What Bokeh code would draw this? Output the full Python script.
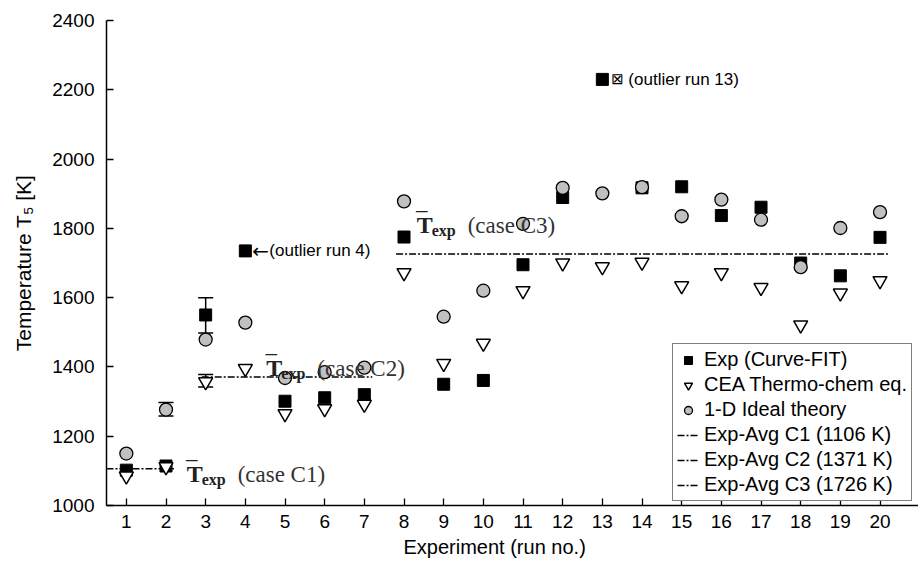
from bokeh.plotting import figure
from bokeh.models import Range1d, Legend, LegendItem, ColumnDataSource, FixedTicker, Title
from bokeh.core.properties import value
from bokeh.embed import file_html
from bokeh.resources import INLINE

# ---------------- data ----------------
runs = list(range(1, 21))
exp_fit = [1102, 1114, 1550, 1735, 1301, 1311, 1320, 1775, 1350, 1361,
           1695, 1889, 2230, 1917, 1920, 1837, 1861, 1700, 1663, 1774]
cea_eq = [1085, 1112, 1357, 1395, 1265, 1279, 1292, 1672, 1410, 1468,
          1620, 1700, 1689, 1702, 1634, 1672, 1629, 1521, 1613, 1649]
ideal_1d = [1150, 1277, 1479, 1528, 1368, 1385, 1398, 1878, 1545, 1620,
            1813, 1917, 1901, 1919, 1835, 1883, 1825, 1688, 1801, 1847]

err_run = [2, 3, 3]
err_low = [1258, 1498, 1342]
err_high = [1297, 1600, 1378]

avg_labels = ["Exp-Avg C1 (1106 K)", "Exp-Avg C2 (1371 K)", "Exp-Avg C3 (1726 K)"]
avg_vals = [1106, 1371, 1726]
avg_start = [0.5, 2.9, 7.8]
avg_end = [2.2, 7.2, 20.2]

case_x = [2.52, 4.53, 8.32]
case_y = [1090, 1396, 1809]
case_text = ["(case C1)", "(case C2)", "(case C3)"]

outlier_run = [4, 13]
outlier_val = [1735, 2230]
outlier_text = ["(outlier run 4)", "(outlier run 13)"]

x_ticks = runs
y_ticks = [1000, 1200, 1400, 1600, 1800, 2000, 2200, 2400]

SANS = "Liberation Sans"
SERIF = "Liberation Serif"

# ---------------- figure ----------------
p = figure(width=918, height=567, x_range=Range1d(0.5, 20.97), y_range=Range1d(1000, 2400),
           output_backend="svg", toolbar_location=None,
           min_border_left=106, min_border_right=0, min_border_top=20, min_border_bottom=62)
p.outline_line_color = None
p.grid.visible = False
p.background_fill_color = "white"

for ax in (p.xaxis[0], p.yaxis[0]):
    ax.axis_line_color = "black"
    ax.axis_line_width = 1.5
    ax.major_tick_line_color = "black"
    ax.major_tick_line_width = 1.3
    ax.major_tick_in = 7
    ax.major_tick_out = 0
    ax.minor_tick_line_color = None
    ax.major_label_text_font = SANS
    ax.major_label_text_font_size = "19px"
    ax.major_label_text_color = "black"
    ax.axis_label_text_font = SANS
    ax.axis_label_text_font_style = "normal"
    ax.axis_label_text_color = "black"

p.xaxis.ticker = FixedTicker(ticks=x_ticks)
p.yaxis.ticker = FixedTicker(ticks=y_ticks)
p.xaxis.major_label_standoff = 9
p.yaxis.major_label_standoff = 12
p.yaxis.axis_label = "Temperature T\u2085 [K]"
p.yaxis.axis_label_text_font_size = "21px"
p.yaxis.axis_label_standoff = 14

xlab = Title(text="Experiment (run no.)", align="left", offset=297,
             text_font=SANS, text_font_size="20px", text_font_style="normal",
             text_color="black", standoff=6)
p.add_layout(xlab, "below")

# average lines
avg_renderers = []
for i in range(3):
    r = p.line([avg_start[i], avg_end[i]], [avg_vals[i], avg_vals[i]],
               line_color="black", line_width=1.5, line_dash="7 2 2 2")
    avg_renderers.append(r)

# error bars
p.segment(x0=err_run, y0=err_low, x1=err_run, y1=err_high, line_color="black", line_width=1.5)
p.scatter(x=err_run + err_run, y=err_low + err_high, marker="dash", size=15,
          line_color="black", line_width=1.5)

src = ColumnDataSource(dict(run=runs, exp=exp_fit, cea=cea_eq, ideal=ideal_1d))
r_exp = p.scatter("run", "exp", source=src, marker="square", size=12,
                  fill_color="black", line_color="black")
r_cea = p.scatter("run", "cea", source=src, marker="inverted_triangle", size=14,
                  fill_color="white", line_color="black", line_width=1.5)
r_ideal = p.scatter("run", "ideal", source=src, marker="circle", size=13,
                    fill_color="#c0c0c0", line_color="black", line_width=1.3)

# case labels  (T-bar_exp (case Cn))
case_src = ColumnDataSource(dict(x=case_x, y=case_y, t=case_text))
p.text(x="x", y="y", text=value("T"), source=case_src, text_font=value(SERIF),
       text_font_style="bold", text_font_size="24px", text_color="#222222",
       text_baseline="alphabetic", text_align="left")
p.text(x="x", y="y", text=value("\u203e"), source=case_src, text_font=value(SERIF),
       text_font_style="bold", text_font_size="30px", text_color="#222222",
       text_baseline="alphabetic", text_align="left", x_offset=0, y_offset=-1)
p.text(x="x", y="y", text=value("exp"), source=case_src, text_font=value(SERIF),
       text_font_style="bold", text_font_size="16px", text_color="#222222",
       text_baseline="alphabetic", text_align="left", x_offset=15, y_offset=5)
p.text(x="x", y="y", text="t", source=case_src, text_font=value(SERIF),
       text_font_size="23px", text_color="#333333",
       text_baseline="alphabetic", text_align="left", x_offset=51)

# outlier annotations
p.text(x=outlier_run[:1], y=outlier_val[:1], text=["\u2190"], text_font=value("DejaVu Sans"),
       text_font_size="20px", text_color="black", text_baseline="middle",
       text_align="left", x_offset=7)
p.text(x=outlier_run[:1], y=outlier_val[:1], text=outlier_text[:1], text_font=value(SANS),
       text_font_size="17px", text_color="black", text_baseline="middle",
       text_align="left", x_offset=24)
p.text(x=outlier_run[1:], y=outlier_val[1:], text=["\u22a0"], text_font=value("DejaVu Sans"),
       text_font_size="15px", text_color="black", text_baseline="middle",
       text_align="left", x_offset=9)
p.text(x=outlier_run[1:], y=outlier_val[1:], text=outlier_text[1:], text_font=value(SANS),
       text_font_size="17px", text_color="black", text_baseline="middle",
       text_align="left", x_offset=26)

legend = Legend(items=[
    LegendItem(label="Exp (Curve-FIT)", renderers=[r_exp]),
    LegendItem(label="CEA Thermo-chem eq.", renderers=[r_cea]),
    LegendItem(label="1-D Ideal theory", renderers=[r_ideal]),
] + [LegendItem(label=avg_labels[i], renderers=[avg_renderers[i]]) for i in range(3)],
    location=(566, 4))
legend.border_line_color = "black"
legend.border_line_width = 1.2
legend.background_fill_color = "white"
legend.background_fill_alpha = 1.0
legend.label_text_font = SANS
legend.label_text_font_size = "20px"
legend.label_text_color = "black"
legend.padding = 4
legend.spacing = 2
legend.margin = 0
legend.glyph_width = 22
legend.glyph_height = 20
legend.label_height = 20
legend.label_standoff = 5
p.add_layout(legend, "center")

open("out.html", "w").write(file_html(p, INLINE))
